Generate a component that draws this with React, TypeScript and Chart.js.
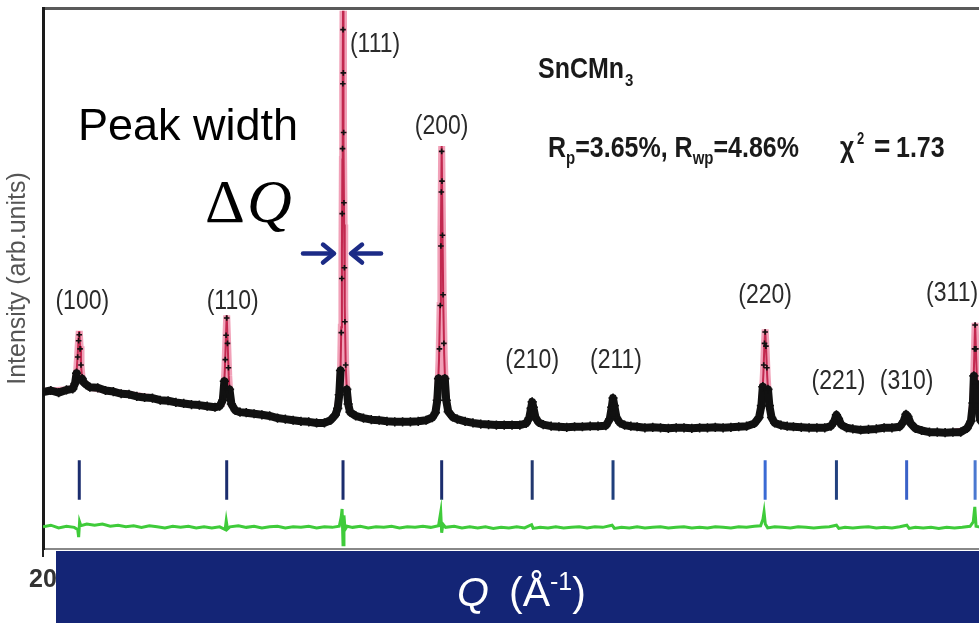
import React, { useEffect, useRef } from 'react';
import { Chart, registerables } from 'chart.js';

Chart.register(...registerables);

const SANS = '"Liberation Sans", Arial, Helvetica, sans-serif';
const SERIF = '"Liberation Serif", "Times New Roman", serif';

// ---- data (2θ in degrees, intensity in arbitrary units) ----
const observed: [number, number][] = [
  [20.0, 29.0], [20.5, 29.3], [21.0, 28.9], [21.5, 29.4], [21.9, 29.6],
  [22.05, 30.6], [22.15, 32.5], [22.22, 35.5], [22.28, 38.5], [22.32, 39.6], [22.37, 37.0], [22.43, 34.0], [22.5, 31.5], [22.6, 30.8], [22.75, 30.4],
  [23.0, 29.9], [23.5, 29.8], [24.0, 29.3], [24.5, 29.1], [25.0, 28.7], [25.5, 28.6], [26.0, 28.2], [26.5, 28.0], [27.0, 27.9], [27.5, 27.5],
  [28.0, 27.4], [28.5, 27.1], [29.0, 26.9], [29.5, 26.7], [30.0, 26.6], [30.5, 26.4], [31.0, 26.2], [31.3, 26.4],
  [31.5, 27.5], [31.6, 31.0], [31.66, 35.0], [31.71, 39.5], [31.75, 42.7], [31.8, 38.0], [31.86, 33.5], [31.93, 29.5], [32.05, 26.8],
  [32.3, 25.6], [32.6, 25.3], [33.0, 25.2], [33.5, 25.0], [34.0, 24.8], [34.5, 24.6], [35.0, 24.2], [35.5, 24.0], [36.0, 23.8], [36.5, 23.6],
  [37.0, 23.5], [37.5, 23.3], [38.0, 23.3], [38.4, 23.8], [38.7, 24.8],
  [38.85, 26.0], [38.95, 28.5], [39.03, 33.0], [39.08, 40], [39.11, 50], [39.14, 62], [39.16, 74], [39.18, 86], [39.19, 96], [39.21, 88],
  [39.23, 77], [39.25, 64], [39.28, 52], [39.31, 42], [39.36, 34], [39.43, 29.5], [39.52, 26.8], [39.64, 25.3],
  [40.0, 24.6], [40.5, 24.2], [41.0, 23.9], [41.5, 23.8], [42.0, 23.6], [42.5, 23.5], [43.0, 23.5], [43.5, 23.5], [44.0, 23.6], [44.5, 23.8], [44.9, 24.3], [45.1, 25.2],
  [45.22, 27.5], [45.3, 31.5], [45.36, 37], [45.41, 45], [45.45, 56], [45.48, 66], [45.5, 73.5], [45.52, 68], [45.55, 58], [45.59, 47],
  [45.64, 38], [45.7, 31.5], [45.79, 27.5], [45.92, 25.4],
  [46.2, 24.4], [46.5, 24.0], [47.0, 23.6], [47.5, 23.3], [48.0, 23.1], [48.5, 23.0], [49.0, 22.9], [49.5, 22.9], [50.0, 22.9], [50.5, 22.9], [50.9, 23.2],
  [51.1, 24.2], [51.22, 26.0], [51.29, 27.2], [51.36, 26.2], [51.5, 24.3],
  [51.7, 23.4], [52.0, 23.0], [52.5, 22.7], [53.0, 22.6], [53.5, 22.5], [54.0, 22.6], [54.5, 22.6], [55.0, 22.7], [55.5, 22.7], [56.0, 22.8],
  [56.25, 24.0], [56.38, 26.2], [56.46, 27.9], [56.54, 26.5], [56.68, 24.3],
  [56.9, 23.3], [57.2, 22.9], [57.6, 22.7], [58.0, 22.6], [58.5, 22.4], [59.0, 22.5], [59.5, 22.4], [60.0, 22.3], [60.5, 22.4], [61.0, 22.4],
  [61.5, 22.3], [62.0, 22.4], [62.5, 22.4], [63.0, 22.5], [63.5, 22.4], [64.0, 22.5], [64.5, 22.6], [65.0, 22.7], [65.5, 23.2], [65.8, 24.3],
  [65.95, 26.5], [66.04, 30], [66.1, 34], [66.15, 38], [66.19, 40.1], [66.24, 37.5], [66.3, 33.5], [66.37, 29.5], [66.46, 26.5], [66.6, 24.3],
  [66.8, 23.3], [67.2, 22.9], [67.6, 22.7], [68.0, 22.6], [68.5, 22.5], [69.0, 22.4], [69.5, 22.4], [70.0, 22.4], [70.4, 22.7],
  [70.62, 23.7], [70.75, 24.8], [70.88, 24.1], [71.05, 23.0],
  [71.4, 22.4], [71.8, 22.2], [72.3, 22.0], [72.8, 22.1], [73.3, 22.2], [73.8, 22.4], [74.3, 22.4], [74.8, 22.6],
  [75.05, 23.6], [75.2, 24.9], [75.32, 24.5], [75.5, 23.2],
  [75.8, 22.3], [76.2, 21.9], [76.7, 21.6], [77.2, 21.6], [77.7, 21.5], [78.2, 21.6], [78.7, 21.6], [79.1, 22.3], [79.35, 23.6],
  [79.48, 27], [79.54, 32], [79.58, 37], [79.62, 41.4], [79.67, 37], [79.73, 30.5], [79.82, 26], [79.95, 23.8],
  [80.3, 22.6], [80.7, 22.2], [81.0, 22.0],
];

const calculated: [number, number][] = [
  [20.0, 29.1], [21.8, 29.5], [22.05, 30.5], [22.15, 32.8], [22.22, 36], [22.28, 39], [22.32, 40.3], [22.37, 37.5], [22.43, 34], [22.5, 31.6],
  [22.6, 30.8], [23.0, 29.9], [25.0, 28.8], [27.0, 27.9], [29.0, 26.9], [31.0, 26.2], [31.4, 26.5], [31.55, 28.5], [31.63, 33], [31.7, 39],
  [31.75, 43.2], [31.81, 38], [31.88, 32], [31.95, 28.5], [32.1, 26.3], [33.0, 25.2], [35.0, 24.3], [37.0, 23.5], [38.4, 23.8], [38.8, 25.5],
  [38.95, 28.5], [39.03, 33], [39.08, 41], [39.12, 55], [39.15, 72], [39.17, 86], [39.19, 99.5], [39.21, 88], [39.23, 75], [39.26, 60],
  [39.3, 45], [39.36, 34], [39.43, 29.5], [39.55, 26.5], [39.8, 25], [41.0, 23.9], [43.0, 23.5], [44.9, 24.3], [45.15, 26], [45.25, 29],
  [45.33, 35], [45.4, 45], [45.45, 58], [45.5, 74.5], [45.55, 60], [45.6, 46], [45.66, 36], [45.73, 30], [45.82, 27], [46.0, 25],
  [47.0, 23.6], [49.0, 22.9], [51.0, 23.5], [51.15, 24.8], [51.29, 27.0], [51.42, 25.2], [51.6, 23.6], [53.0, 22.6], [55.0, 22.7], [56.2, 23.5],
  [56.35, 25.8], [56.46, 27.6], [56.57, 26.0], [56.75, 23.8], [58.0, 22.6], [61.0, 22.4], [64.0, 22.5], [65.6, 23.4], [65.85, 25], [66.0, 28],
  [66.08, 32.5], [66.14, 37.5], [66.19, 40.6], [66.25, 37], [66.32, 32], [66.4, 28], [66.55, 25], [66.8, 23.4], [68.0, 22.6], [70.4, 22.7],
  [70.75, 24.6], [71.1, 22.9], [72.5, 22.1], [74.8, 22.6], [75.2, 24.7], [75.55, 23.0], [77.0, 21.6], [79.1, 22.3], [79.4, 25], [79.5, 29],
  [79.56, 35], [79.62, 41.8], [79.68, 36], [79.75, 30], [79.85, 25.5], [80.0, 23.6], [81.0, 22.0],
];

const difference: [number, number][] = [
  [20, 4.1], [20.5, 4.4], [21, 3.9], [21.5, 4.2], [22.0, 4.0], [22.22, 3.6], [22.28, 2.2], [22.34, 5.0], [22.42, 4.3], [22.8, 4.6],
  [23.3, 4.4], [23.8, 4.6], [24.3, 4.2], [24.8, 4.4], [25.3, 4.1], [25.8, 4.3], [26.3, 4.0], [26.8, 4.3], [27.3, 4.1], [27.8, 3.9],
  [28.3, 4.2], [28.8, 4.0], [29.3, 4.2], [29.8, 3.9], [30.3, 4.1], [30.8, 3.9], [31.3, 4.1], [31.65, 3.6], [31.72, 5.2], [31.8, 3.7],
  [31.95, 4.1], [32.5, 4.3], [33, 4.0], [33.5, 4.2], [34, 3.9], [34.5, 4.1], [35, 4.2], [35.5, 3.9], [36, 4.1], [36.5, 4.0],
  [37, 4.2], [37.5, 3.9], [38, 4.1], [38.5, 4.0], [38.95, 4.2], [39.08, 6.0], [39.13, 7.4], [39.19, 0.8], [39.25, 6.2], [39.32, 3.6],
  [39.45, 4.2], [39.8, 4.0], [40.3, 4.2], [40.8, 3.9], [41.3, 4.1], [41.8, 4.0], [42.3, 4.2], [42.8, 3.9], [43.3, 4.1], [43.8, 4.0],
  [44.3, 4.2], [44.8, 4.0], [45.3, 4.3], [45.44, 6.8], [45.5, 3.0], [45.58, 4.6], [45.75, 4.0], [46.3, 4.2], [46.8, 3.9], [47.3, 4.1],
  [47.8, 3.9], [48.3, 4.1], [48.8, 3.8], [49.3, 4.0], [49.8, 3.9], [50.3, 4.1], [50.8, 3.9], [51.25, 4.5], [51.35, 3.8], [51.8, 4.0],
  [52.3, 3.9], [52.8, 4.1], [53.3, 3.9], [53.8, 4.0], [54.3, 4.1], [54.8, 3.9], [55.3, 4.1], [55.8, 4.0], [56.4, 4.4], [56.55, 3.8],
  [57, 4.0], [57.5, 3.9], [58, 4.1], [58.5, 3.9], [59, 4.0], [59.5, 4.1], [60, 3.9], [60.5, 4.0], [61, 4.1], [61.5, 3.9],
  [62, 4.0], [62.5, 3.9], [63, 4.1], [63.5, 4.0], [64, 3.9], [64.5, 4.1], [65, 4.0], [65.5, 4.2], [65.9, 4.3], [66.05, 5.5],
  [66.12, 6.8], [66.2, 4.6], [66.35, 3.9], [66.8, 4.1], [67.3, 4.0], [67.8, 3.9], [68.3, 4.1], [68.8, 4.0], [69.3, 3.9], [69.8, 4.0],
  [70.3, 4.1], [70.75, 4.4], [70.9, 3.8], [71.3, 4.0], [71.8, 3.9], [72.3, 4.0], [72.8, 4.1], [73.3, 3.9], [73.8, 4.0], [74.3, 3.9],
  [74.8, 4.1], [75.25, 4.4], [75.4, 3.8], [75.8, 4.0], [76.3, 3.9], [76.8, 4.0], [77.3, 3.8], [77.8, 4.0], [78.3, 3.9], [78.8, 4.0],
  [79.3, 4.2], [79.5, 5.0], [79.6, 7.8], [79.68, 4.2], [80, 4.0], [80.5, 4.1], [81, 4.0],
];

const braggPositions = [22.32, 31.75, 39.19, 45.5, 51.29, 56.46, 66.19, 70.75, 75.24, 79.62];
const hklLabels = ['(100)', '(110)', '(111)', '(200)', '(210)', '(211)', '(220)', '(221)', '(310)', '(311)'];
const braggMarkTop = 16.4;
const braggMarkBottom = 9.1;
const xTickLabels: Record<number, string> = { 20: '20' };

// ---- layout / styling (not data) ----
const braggColors = ['#1b2d6e', '#1b2d6e', '#1b2d6e', '#1b2d6e', '#22386f', '#1f3f7c', '#3a6ad4', '#22417f', '#3a62c8', '#4a78d0'];
const labelLayout = [
  { dx: 3, v: 45.7 }, { dx: 6, v: 45.7 }, { dx: 32, v: 93.3 }, { dx: 0, v: 78.2 }, { dx: 0, v: 34.8 },
  { dx: 3, v: 34.8 }, { dx: 0, v: 46.8 }, { dx: 2, v: 31.0 }, { dx: 0, v: 31.0 }, { dx: -23, v: 47.3 },
];
const PEAK_LEVEL = 33;

function stretchedText(ctx: CanvasRenderingContext2D, text: string, x: number, y: number, font: string, sy: number) {
  ctx.save();
  ctx.font = font;
  ctx.translate(x, y);
  ctx.scale(1, sy);
  ctx.fillText(text, 0, 0);
  ctx.restore();
}

function arrow(ctx: CanvasRenderingContext2D, tipX: number, tailX: number, y: number) {
  const dir = Math.sign(tipX - tailX);
  ctx.beginPath();
  ctx.moveTo(tailX, y);
  ctx.lineTo(tipX - dir * 3, y);
  ctx.stroke();
  ctx.beginPath();
  ctx.moveTo(tipX - dir * 11, y - 9);
  ctx.lineTo(tipX, y);
  ctx.lineTo(tipX - dir * 11, y + 9);
  ctx.stroke();
}

const annotations = {
  id: 'annotations',
  afterDraw(chart: any) {
    const ctx: CanvasRenderingContext2D = chart.ctx;
    const xs = chart.scales.x;
    const ys = chart.scales.y;
    ctx.save();

    // hkl labels
    ctx.fillStyle = '#2a2a2a';
    ctx.textAlign = 'center';
    ctx.textBaseline = 'middle';
    hklLabels.forEach((t, i) => {
      const px = xs.getPixelForValue(braggPositions[i]) + labelLayout[i].dx;
      const py = ys.getPixelForValue(labelLayout[i].v);
      stretchedText(ctx, t, px, py, `23px ${SANS}`, 1.2);
    });

    // compound name and agreement factors
    ctx.textAlign = 'left';
    ctx.textBaseline = 'alphabetic';
    ctx.fillStyle = '#1a1a1a';
    stretchedText(ctx, 'SnCMn', 538, 78, `bold 25px ${SANS}`, 1.15);
    ctx.font = `bold 25px ${SANS}`;
    const w1 = ctx.measureText('SnCMn').width;
    stretchedText(ctx, '3', 538 + w1 + 1, 86, `bold 15px ${SANS}`, 1.15);

    let x = 548;
    const runs: { t: string; f: string; dy: number }[] = [
      { t: 'R', f: `bold 25px ${SANS}`, dy: 0 },
      { t: 'p', f: `bold 15px ${SANS}`, dy: 7 },
      { t: '=3.65%, R', f: `bold 25px ${SANS}`, dy: 0 },
      { t: 'wp', f: `bold 15px ${SANS}`, dy: 7 },
      { t: '=4.86%', f: `bold 25px ${SANS}`, dy: 0 },
    ];
    runs.forEach((r) => {
      stretchedText(ctx, r.t, x, 157 + r.dy, r.f, 1.2);
      ctx.font = r.f;
      x += ctx.measureText(r.t).width;
    });
    stretchedText(ctx, 'χ', 840, 157, `bold 25px ${SANS}`, 1.2);
    stretchedText(ctx, '2', 857, 144, `bold 13px ${SANS}`, 1.2);
    stretchedText(ctx, '=', 874, 157, `bold 28px ${SANS}`, 1.1);
    stretchedText(ctx, '1.73', 896, 157, `bold 25px ${SANS}`, 1.2);

    // "Peak width" and ΔQ annotation
    ctx.fillStyle = '#000';
    ctx.font = `45px ${SANS}`;
    ctx.fillText('Peak width', 78, 140);
    ctx.font = `62px ${SERIF}`;
    ctx.fillText('Δ', 205, 222);
    ctx.font = `italic 62px ${SERIF}`;
    ctx.fillText('Q', 247, 222);

    const peakPx = xs.getPixelForValue(braggPositions[2]);
    const arrowY = ys.getPixelForValue(54.6);
    ctx.strokeStyle = '#1c2b86';
    ctx.lineWidth = 4.5;
    ctx.lineCap = 'round';
    ctx.lineJoin = 'round';
    arrow(ctx, peakPx - 9, peakPx - 40, arrowY);
    arrow(ctx, peakPx + 8, peakPx + 38, arrowY);

    // axis banner
    ctx.fillStyle = '#142576';
    ctx.fillRect(56, 551, 1000, 80);
    ctx.fillStyle = '#ffffff';
    ctx.font = `italic 41px ${SANS}`;
    ctx.fillText('Q', 457, 606);
    ctx.font = `41px ${SANS}`;
    ctx.fillText('(Å', 509, 606);
    let qx = 509 + ctx.measureText('(Å').width;
    ctx.font = `25px ${SANS}`;
    ctx.fillText('-1', qx, 590);
    qx += ctx.measureText('-1').width;
    ctx.font = `41px ${SANS}`;
    ctx.fillText(')', qx, 606);

    ctx.restore();
  },
};

export default function App() {
  const ref = useRef<HTMLCanvasElement>(null);

  useEffect(() => {
    const canvas = ref.current;
    if (!canvas) return;

    const obsData = observed.map(([t, v]) => ({ x: t, y: v }));
    const calcData = calculated.map(([t, v]) => ({ x: t, y: v }));
    const diffData = difference.map(([t, v]) => ({ x: t, y: v }));
    const braggData: { x: number; y: number | null }[] = [];
    braggPositions.forEach((p) => {
      braggData.push({ x: p, y: braggMarkTop }, { x: p, y: braggMarkBottom }, { x: p, y: null });
    });

    const isPeak = (c: any) => c.p0.parsed.y > PEAK_LEVEL || c.p1.parsed.y > PEAK_LEVEL;

    const chart = new Chart(canvas, {
      type: 'line',
      data: {
        datasets: [
          {
            label: 'calc glow',
            data: calcData,
            borderColor: 'rgba(236,130,160,0.75)',
            borderWidth: 7,
            pointRadius: 0,
            segment: { borderColor: (c: any) => (c.p0.parsed.y > 28 || c.p1.parsed.y > 28 ? 'rgba(236,130,160,0.75)' : 'rgba(0,0,0,0)') },
            order: 5,
          },
          {
            label: 'calc',
            data: calcData,
            borderColor: '#c2284f',
            borderWidth: 2,
            pointRadius: 0,
            order: 4,
          },
          {
            label: 'observed',
            data: obsData,
            borderColor: '#111',
            borderWidth: 8,
            borderJoinStyle: 'round',
            borderCapStyle: 'round',
            segment: { borderColor: (c: any) => (isPeak(c) ? 'rgba(0,0,0,0)' : '#111') },
            pointStyle: 'cross',
            pointRadius: (c: any) => (c.raw && c.raw.y > PEAK_LEVEL ? 2.8 : 4.6),
            pointBorderColor: '#111',
            pointBorderWidth: 1.6,
            order: 3,
          },
          {
            label: 'bragg',
            data: braggData,
            borderColor: '#1b2d6e',
            borderWidth: 3,
            pointRadius: 0,
            spanGaps: false,
            segment: { borderColor: (c: any) => braggColors[Math.floor(c.p0DataIndex / 3)] },
            order: 2,
          },
          {
            label: 'difference',
            data: diffData,
            borderColor: '#3fcb3a',
            borderWidth: 3,
            pointRadius: 0,
            order: 1,
          },
        ],
      },
      options: {
        animation: false,
        responsive: false,
        events: [],
        layout: { padding: { top: 8, right: 4, left: 0, bottom: 0 } },
        plugins: { legend: { display: false }, tooltip: { enabled: false } },
        scales: {
          x: {
            type: 'linear',
            position: 'bottom',
            min: 20,
            max: 80.7,
            afterFit: (s: any) => { s.height = 74; },
            ticks: {
              stepSize: 10,
              autoSkip: false,
              maxRotation: 0,
              padding: 8,
              color: '#333',
              font: { family: SANS, size: 25, weight: 'bold' },
              callback: (v: any) => xTickLabels[v as number] ?? '',
            },
            grid: {
              display: true,
              drawOnChartArea: false,
              drawTicks: true,
              tickLength: 8,
              color: (c: any) => (c.tick && xTickLabels[c.tick.value] ? '#222' : 'rgba(0,0,0,0)'),
              lineWidth: 2,
            },
            border: { display: true, color: '#888', width: 2 },
          },
          x2: {
            type: 'linear',
            position: 'top',
            min: 20,
            max: 80.7,
            afterFit: (s: any) => { s.height = 0; },
            ticks: { display: false },
            grid: { display: false, drawTicks: false },
            border: { display: true, color: '#5a5a5a', width: 3 },
          },
          y: {
            type: 'linear',
            min: 0,
            max: 100,
            afterFit: (s: any) => { s.width = 43; },
            ticks: { display: false },
            grid: { display: false, drawTicks: false },
            border: { display: true, color: '#1a1a1a', width: 3 },
            title: {
              display: true,
              text: 'Intensity (arb.units)',
              color: '#555',
              font: { family: SANS, size: 25 },
              padding: { top: 3, bottom: 0 },
            },
          },
        },
      },
      plugins: [annotations],
    } as any);

    return () => chart.destroy();
  }, []);

  return (
    <div style={{ position: 'fixed', left: 0, top: 0, width: 979, height: 623, overflow: 'hidden', background: '#fff' }}>
      <canvas ref={ref} width={1000} height={623} style={{ display: 'block', width: 1000, height: 623 }} />
    </div>
  );
}
